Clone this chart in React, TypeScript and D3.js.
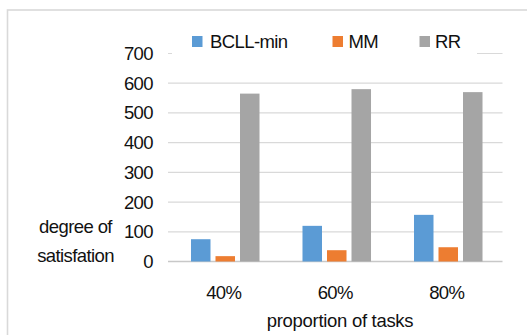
import React from "react";
import * as d3 from "d3";

const categories = ["40%", "60%", "80%"];
const seriesNames = ["BCLL-min", "MM", "RR"];
const bcllMin = [75, 120, 157];
const mm = [18, 38, 48];
const rr = [565, 580, 570];
const yTicks = [0, 100, 200, 300, 400, 500, 600, 700];
const colors = ["#5b9bd5", "#ed7d31", "#a5a5a5"];

export default function App() {
  const W = 527, H = 335;
  const left = 168, right = 502.5, top = 53.5, bottom = 261.5;
  const x = d3.scaleBand<string>().domain(categories).range([left, right]).paddingInner(0).paddingOuter(0);
  const xInner = d3.scaleBand<string>().domain(seriesNames).range([0, x.bandwidth()]).paddingInner(0.204).paddingOuter(0.877);
  const y = d3.scaleLinear().domain([0, 700]).range([bottom, top]);
  const values = [bcllMin, mm, rr];
  const font = "'Liberation Sans', Arial, sans-serif";
  const fs = 18.5;
  const legendItems = [
    { name: "BCLL-min", sx: 192, tx: 210 },
    { name: "MM", sx: 332.5, tx: 348.5 },
    { name: "RR", sx: 419.5, tx: 435 },
  ];
  return (
    <svg width={W} height={H} style={{ position: "absolute", left: 0, top: 0, background: "#fff" }}>
      <rect x={7.5} y={10} width={W + 20} height={H + 20} fill="#fff" stroke="#d9d9d9" strokeWidth={1.6} />
      {yTicks.map((t) => (
        <line key={t} x1={left} x2={right} y1={y(t)} y2={y(t)} stroke={t === 0 ? "#c8c8c8" : "#d9d9d9"} strokeWidth={t === 0 ? 1.4 : 1.2} />
      ))}
      {yTicks.map((t) => (
        <text key={"l" + t} x={153} y={y(t) + 6.5} textAnchor="end" fontFamily={font} fontSize={fs} fill="#111" letterSpacing={-0.6}>
          {t}
        </text>
      ))}
      {categories.map((c, ci) =>
        seriesNames.map((s, si) => (
          <rect
            key={c + s}
            x={(x(c) as number) + (xInner(s) as number) + 1.5}
            y={y(values[si][ci])}
            width={xInner.bandwidth()}
            height={bottom - y(values[si][ci])}
            fill={colors[si]}
          />
        ))
      )}
      {categories.map((c) => (
        <text key={"c" + c} x={(x(c) as number) + x.bandwidth() / 2} y={299} textAnchor="middle" fontFamily={font} fontSize={fs} fill="#111" letterSpacing={-0.6}>
          {c}
        </text>
      ))}
      <text x={340} y={327} textAnchor="middle" fontFamily={font} fontSize={fs} fill="#111" letterSpacing={-0.3}>
        proportion of tasks
      </text>
      <text x={75.5} y={233} textAnchor="middle" fontFamily={font} fontSize={fs} fill="#111" letterSpacing={-0.6}>
        degree of
      </text>
      <text x={75.5} y={262} textAnchor="middle" fontFamily={font} fontSize={fs} fill="#111" letterSpacing={-0.6}>
        satisfation
      </text>
      <rect x={172} y={28} width={305} height={30} fill="#fff" />
      {legendItems.map((l, i) => (
        <g key={l.name}>
          <rect x={l.sx} y={36} width={10.5} height={11} fill={colors[i]} />
          <text x={l.tx} y={48} fontFamily={font} fontSize={fs} fill="#111" letterSpacing={-0.6}>
            {l.name}
          </text>
        </g>
      ))}
    </svg>
  );
}
